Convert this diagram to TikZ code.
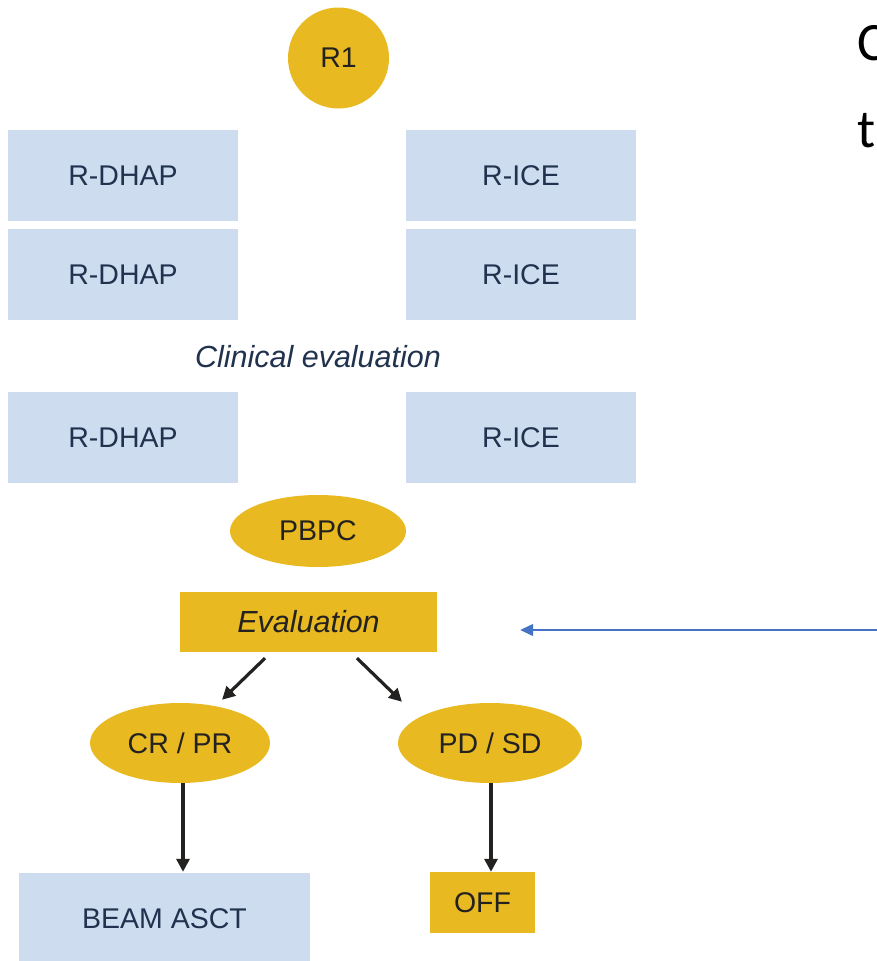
\documentclass[tikz,border=0pt]{standalone}
\usepackage{fontspec}
\setmainfont{Liberation Sans}
\newfontfamily\calib{Carlito}
\usetikzlibrary{arrows.meta,shapes.geometric}
\definecolor{yel}{RGB}{232,185,32}
\definecolor{lblue}{RGB}{205,220,238}
\definecolor{navy}{RGB}{32,50,78}
\definecolor{dk}{RGB}{36,34,32}
\definecolor{arrblue}{RGB}{68,114,196}
\tikzset{
  lbl/.style={font=\fontsize{28.5}{32}\selectfont},
  ilbl/.style={font=\fontsize{30.5}{34}\selectfont\itshape},
  bbox/.style={lbl, rectangle, fill=lblue, text=navy, inner sep=0pt},
  ybox/.style={lbl, rectangle, fill=yel, text=dk, inner sep=0pt},
  yell/.style={lbl, ellipse, fill=yel, text=dk, inner sep=0pt},
  arr/.style={draw=dk, line width=3.2pt, -{Triangle[length=13pt,width=13pt]}},
  bluearr/.style={draw=arrblue, line width=1.3pt, -{Triangle[length=13pt,width=12pt]}},
}
\begin{document}
\begin{tikzpicture}[x=1pt,y=-1pt]
\useasboundingbox (0,0) rectangle (877,961);
\clip (0,0) rectangle (877,961);
\node[yell, circle, minimum size=101] (r1) at (338.5,58) {R1};
\node[bbox, minimum width=230, minimum height=91] (d1) at (123,175.5) {R-DHAP};
\node[bbox, minimum width=230, minimum height=91] (i1) at (521,175.5) {R-ICE};
\node[bbox, minimum width=230, minimum height=91] (d2) at (123,274.5) {R-DHAP};
\node[bbox, minimum width=230, minimum height=91] (i2) at (521,274.5) {R-ICE};
\node[ilbl, text=navy] (ce) at (318,357) {Clinical evaluation};
\node[bbox, minimum width=230, minimum height=91] (d3) at (123,437.5) {R-DHAP};
\node[bbox, minimum width=230, minimum height=91] (i3) at (521,437.5) {R-ICE};
\node[yell, minimum width=176, minimum height=72] (pbpc) at (318,531) {PBPC};
\node[ybox, ilbl, minimum width=257, minimum height=60] (ev) at (308.5,622) {Evaluation};
\node[yell, minimum width=180, minimum height=80] (crpr) at (180,743) {CR / PR};
\node[yell, minimum width=184, minimum height=80] (pdsd) at (490,743) {PD / SD};
\node[bbox, minimum width=291, minimum height=92] (beam) at (164.5,919) {BEAM ASCT};
\node[ybox, minimum width=105, minimum height=61] (off) at (482.5,902.5) {OFF};
\draw[arr] ([xshift=-43.5pt,yshift=-6pt]ev.south) -- ([xshift=42pt,yshift=3pt]crpr.north);
\draw[arr] ([xshift=48.5pt,yshift=-6pt]ev.south) -- ([xshift=-88pt,yshift=1pt]pdsd.north);
\draw[arr] ([xshift=3pt]crpr.south) -- ([xshift=18.5pt,yshift=1pt]beam.north);
\draw[arr] ([xshift=1pt]pdsd.south) -- ([xshift=8.5pt]off.north);
\coordinate (bstart) at (880,630);
\draw[bluearr] (bstart) -- ([xshift=83pt,yshift=-8pt]ev.east);
\node[anchor=base west, inner sep=0pt, font=\calib\fontsize{54}{60}\selectfont, text=black] (tc) at (857,60) {C};
\node[anchor=base west, inner sep=0pt, font=\calib\fontsize{54}{60}\selectfont, text=black] (tt) at (857,147) {t};
\end{tikzpicture}
\end{document}
